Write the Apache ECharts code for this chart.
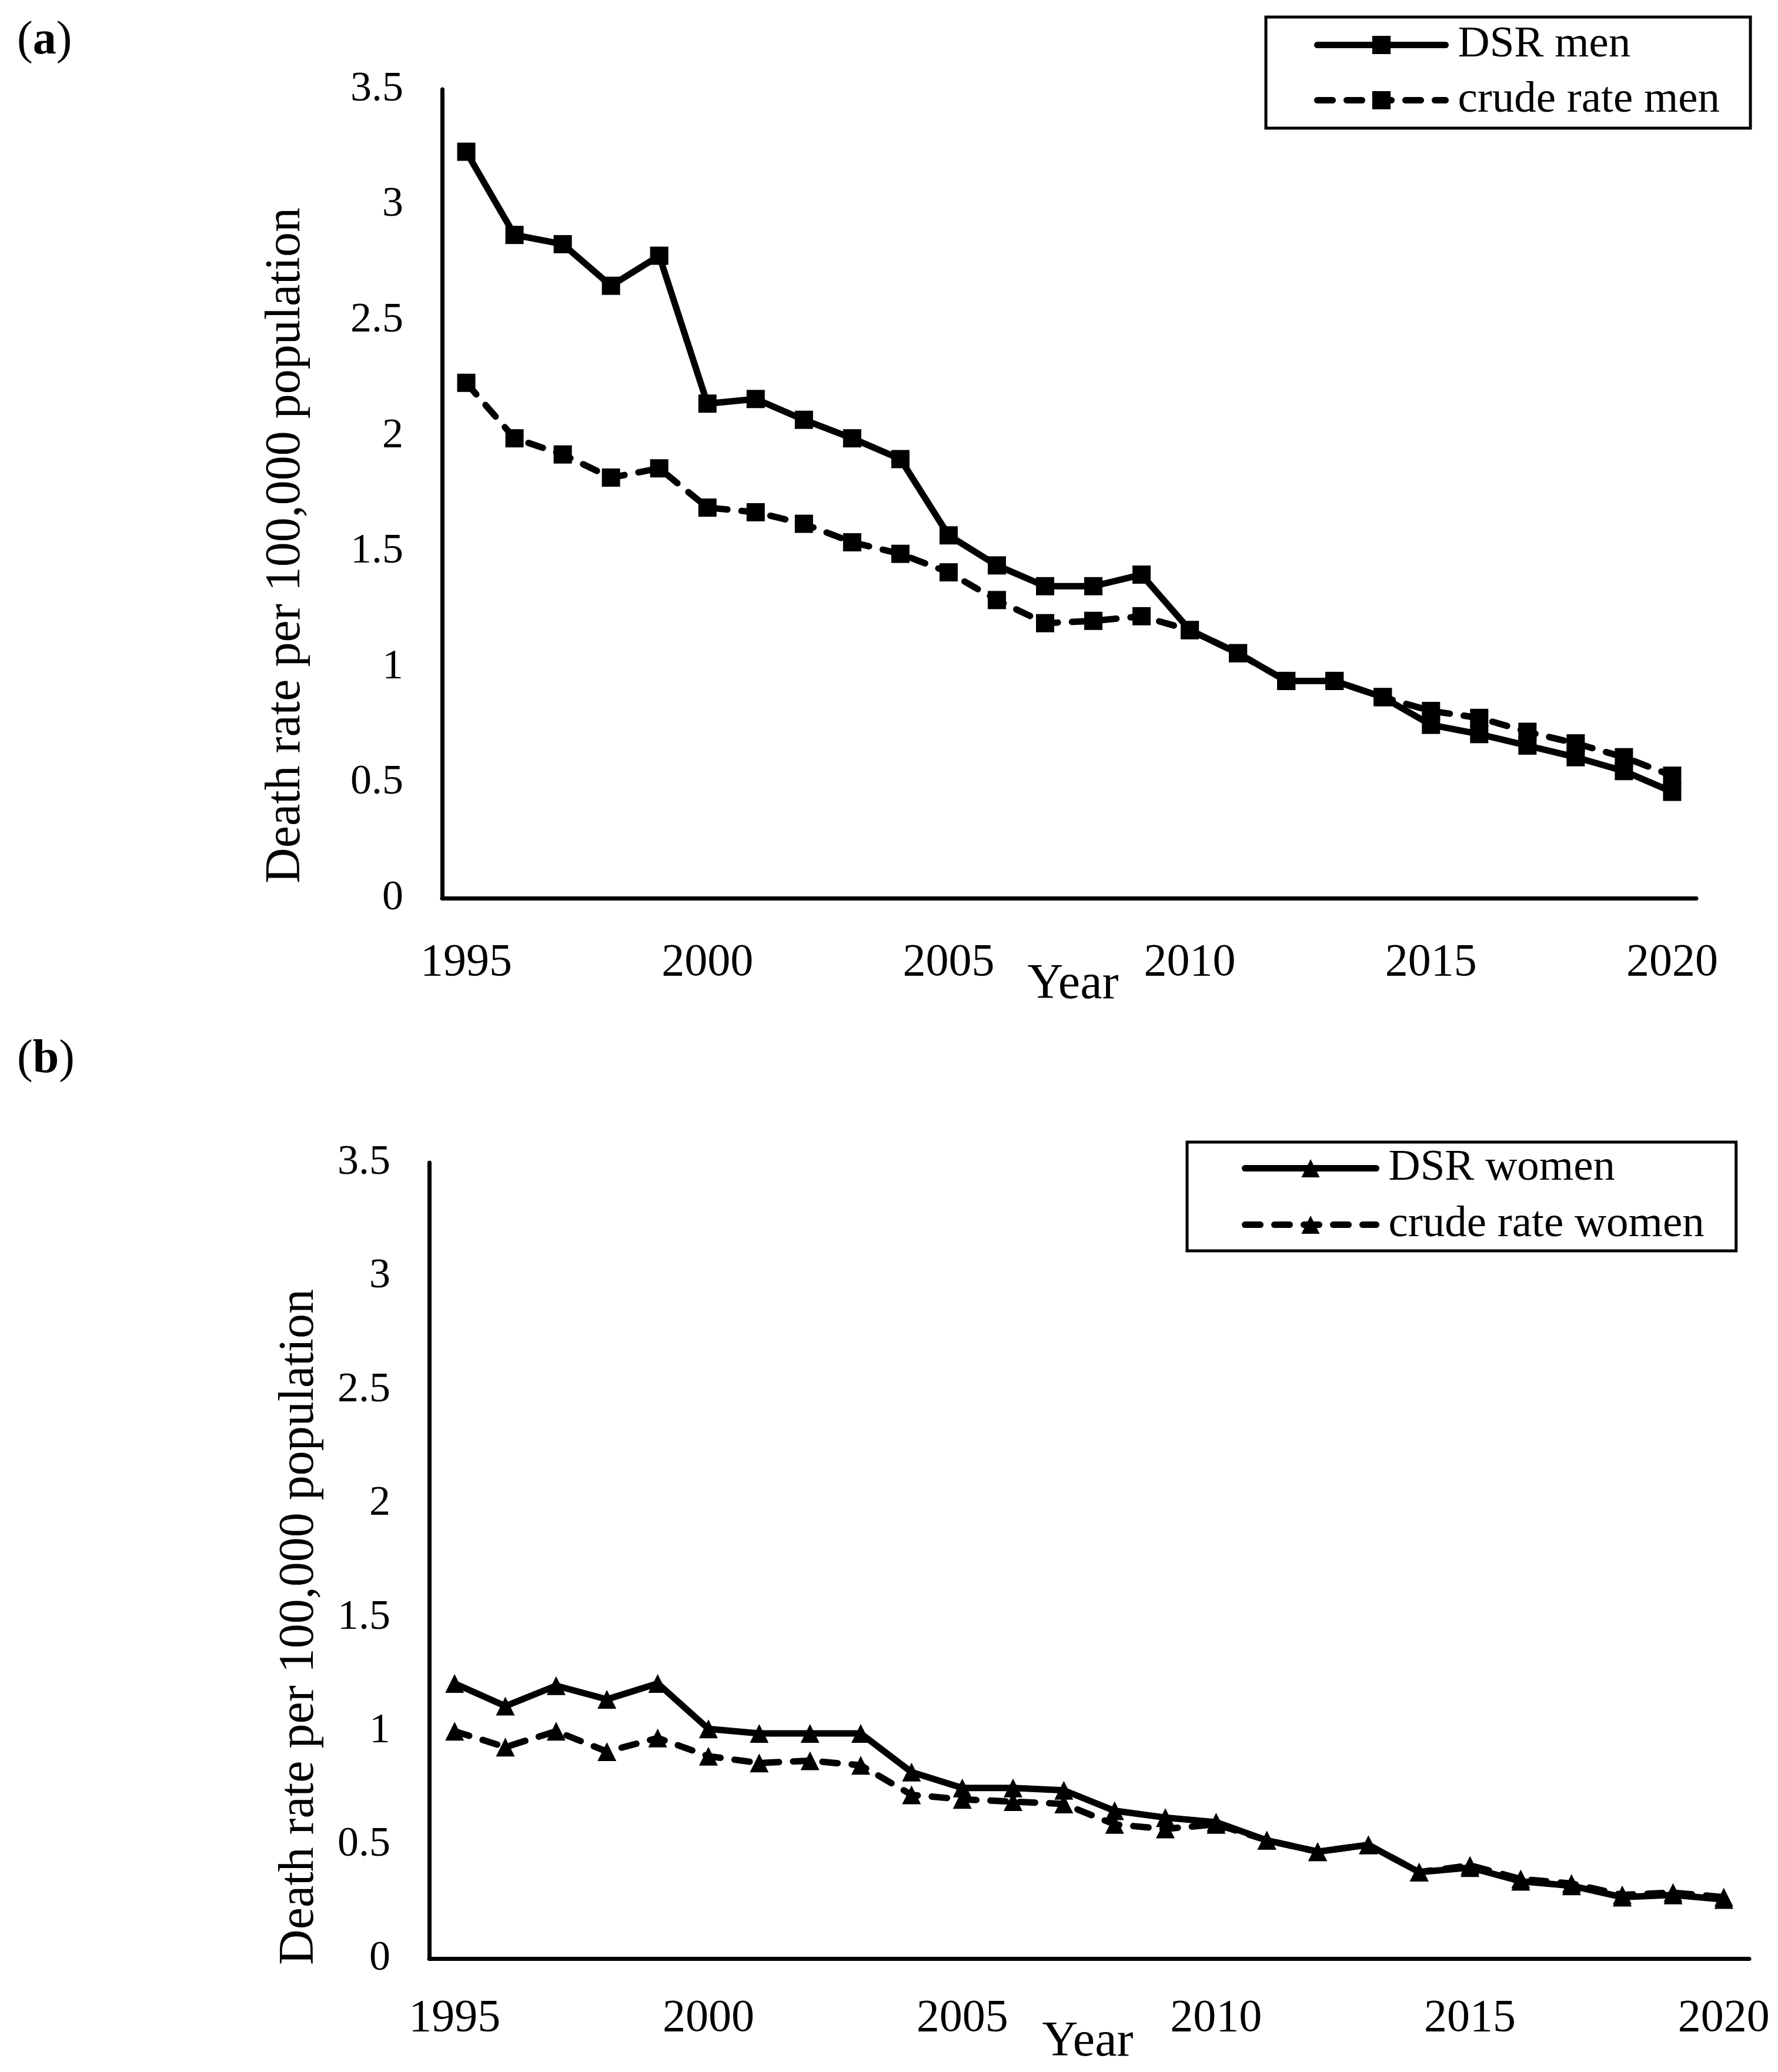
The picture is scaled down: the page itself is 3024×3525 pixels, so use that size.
<!DOCTYPE html>
<html>
<head>
<meta charset="utf-8">
<script src="https://cdn.jsdelivr.net/npm/echarts@6/dist/echarts.min.js"></script>
<style>
html,body{margin:0;padding:0;background:#fff;}
#chart{width:3024px;height:3525px;}
</style>
</head>
<body>
<div id="chart"></div>
<script>
const years = ['1995','1996','1997','1998','1999','2000','2001','2002','2003','2004','2005','2006','2007','2008','2009','2010','2011','2012','2013','2014','2015','2016','2017','2018','2019','2020'];
const dsrMen = [3.23, 2.87, 2.83, 2.65, 2.78, 2.14, 2.16, 2.07, 1.99, 1.90, 1.57, 1.44, 1.35, 1.35, 1.40, 1.16, 1.06, 0.94, 0.94, 0.87, 0.75, 0.71, 0.66, 0.61, 0.55, 0.46];
const crudeMen = [2.23, 1.99, 1.92, 1.82, 1.86, 1.69, 1.67, 1.62, 1.54, 1.49, 1.41, 1.29, 1.19, 1.20, 1.22, 1.16, 1.06, 0.94, 0.94, 0.87, 0.81, 0.78, 0.72, 0.67, 0.61, 0.53];
const dsrWomen = [1.21, 1.11, 1.20, 1.14, 1.21, 1.01, 0.99, 0.99, 0.99, 0.82, 0.75, 0.75, 0.74, 0.65, 0.62, 0.60, 0.52, 0.47, 0.50, 0.38, 0.40, 0.34, 0.32, 0.27, 0.28, 0.26];
const crudeWomen = [1.00, 0.93, 1.00, 0.91, 0.97, 0.89, 0.86, 0.87, 0.85, 0.72, 0.70, 0.69, 0.68, 0.59, 0.57, 0.59, 0.52, 0.47, 0.50, 0.38, 0.41, 0.35, 0.33, 0.28, 0.29, 0.27];
const yMin = 0, yMax = 3.5, yStep = 0.5;
const yTitle = 'Death rate per 100,000 population';
const xTitle = 'Year';

const FONT = '"Liberation Serif", "Times New Roman", serif';
const BLACK = '#000';

function xAxisCfg(gi, margin) {
  return {
    type: 'category', gridIndex: gi, data: years, boundaryGap: true,
    axisLine: { show: true, lineStyle: { color: BLACK, width: 7 } },
    axisTick: { show: false },
    splitLine: { show: false },
    axisLabel: { interval: 4, fontFamily: FONT, fontSize: 78, color: BLACK, margin: margin }
  };
}
function yAxisCfg(gi) {
  return {
    type: 'value', gridIndex: gi, min: yMin, max: yMax, interval: yStep,
    axisLine: { show: true, lineStyle: { color: BLACK, width: 7 } },
    axisTick: { show: false },
    splitLine: { show: false },
    axisLabel: { fontFamily: FONT, fontSize: 72, color: BLACK, margin: 66 }
  };
}
function seriesCfg(name, data, idx, symbol, dashed) {
  return {
    name: name, type: 'line', xAxisIndex: idx, yAxisIndex: idx, data: data,
    symbol: symbol, symbolSize: symbol === 'rect' ? 31 : 32,
    showSymbol: true, showAllSymbol: true, animation: false,
    itemStyle: { color: BLACK },
    lineStyle: { color: BLACK, width: 11, type: dashed ? [26, 24] : 'solid', cap: dashed ? 'round' : 'butt', join: 'round' },
    z: dashed ? 3 : 2
  };
}
function legendCfg(names, left, top, padding, itemWidth, itemGap) {
  return {
    data: names, orient: 'vertical', left: left, top: top,
    padding: padding, itemWidth: itemWidth, itemHeight: 39, itemGap: itemGap,
    borderColor: BLACK, borderWidth: 5, selectedMode: false,
    lineStyle: { width: 11, color: BLACK, cap: 'round' },
    textStyle: { fontFamily: FONT, fontSize: 75, color: BLACK, padding: [0, 0, 0, 16] }
  };
}
function textEl(text, x, y, size, rot) {
  return {
    type: 'text', x: x, y: y, rotation: rot || 0,
    style: { text: text, fontFamily: FONT, fontSize: size, fill: BLACK, textAlign: 'center', textVerticalAlign: 'middle' }
  };
}
function panelLabel(letter, x, y) {
  return {
    type: 'text', x: x, y: y,
    style: {
      text: '{n|(}{b|' + letter + '}{n|)}', textAlign: 'left', textVerticalAlign: 'middle',
      rich: {
        n: { fontFamily: FONT, fontSize: 80, fill: BLACK, fontWeight: 'normal' },
        b: { fontFamily: FONT, fontSize: 80, fill: BLACK, fontWeight: 'bold' }
      }
    }
  };
}

const chart = echarts.init(document.getElementById('chart'), null, { renderer: 'canvas' });
chart.setOption({
  backgroundColor: '#fff',
  animation: false,
  grid: [
    { left: 752, top: 152, width: 2133, height: 1376, outerBoundsMode: 'none' },
    { left: 730, top: 1978, width: 2245, height: 1354, outerBoundsMode: 'none' }
  ],
  xAxis: [xAxisCfg(0, 72), xAxisCfg(1, 64)],
  yAxis: [yAxisCfg(0), yAxisCfg(1)],
  legend: [
    legendCfg(['DSR men', 'crude rate men'], 2153, 29, [10, 52, 10, 82], 218, 19),
    legendCfg(['DSR women', 'crude rate women'], 2019, 1943, [7, 54, 7, 93], 223, 21)
  ],
  series: [
    seriesCfg('DSR men', dsrMen, 0, 'rect', false),
    seriesCfg('crude rate men', crudeMen, 0, 'rect', true),
    seriesCfg('DSR women', dsrWomen, 1, 'triangle', false),
    seriesCfg('crude rate women', crudeWomen, 1, 'triangle', true)
  ],
  graphic: [
    panelLabel('a', 29, 70),
    panelLabel('b', 29, 1803),
    textEl(yTitle, 487, 928, 84, Math.PI / 2),
    textEl(yTitle, 510, 2768, 84, Math.PI / 2),
    textEl(xTitle, 1825, 1676, 84),
    textEl(xTitle, 1850, 3475, 84)
  ]
});
</script>
</body>
</html>
